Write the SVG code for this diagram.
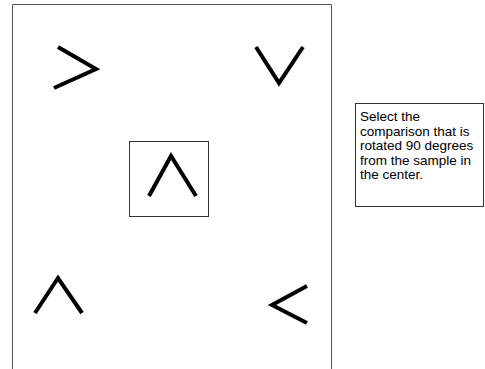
<svg xmlns="http://www.w3.org/2000/svg" width="485" height="369" viewBox="0 0 485 369">
<style>
.frame{fill:none;stroke:#555;stroke-width:1}
.box{fill:#fff;stroke:#333;stroke-width:1}
.mark{fill:none;stroke:#000;stroke-width:4;stroke-linecap:butt;stroke-linejoin:miter}
.txt{font-family:"Liberation Sans",Arial,sans-serif;font-size:13.5px;fill:#000}
</style>
<rect width="485" height="369" fill="#fff"/>
<g id="frame"><path class="frame" d="M12.5,370 V4.5 H331.5 V370"/></g>
<g id="comparison-top-left"><polyline class="mark" points="58,47 96,69 54,88"/></g>
<g id="comparison-top-right"><polyline class="mark" points="256,47 279,83 303,47"/></g>
<g id="sample"><rect class="box" x="129.5" y="141.5" width="79" height="75"/><polyline class="mark" points="149,196 171,156 196,196"/></g>
<g id="comparison-bottom-left"><polyline class="mark" points="35,313 58,278 82,313"/></g>
<g id="comparison-bottom-right"><polyline class="mark" points="307,286 272,305 307,323"/></g>
<g id="instructions"><rect class="box" x="355.5" y="103.5" width="128" height="103"/>
<text class="txt" x="360" y="121">Select the</text>
<text class="txt" x="360" y="135.5">comparison that is</text>
<text class="txt" x="360" y="150">rotated 90 degrees</text>
<text class="txt" x="360" y="164.5">from the sample in</text>
<text class="txt" x="360" y="179">the center.</text>
</g>
</svg>
